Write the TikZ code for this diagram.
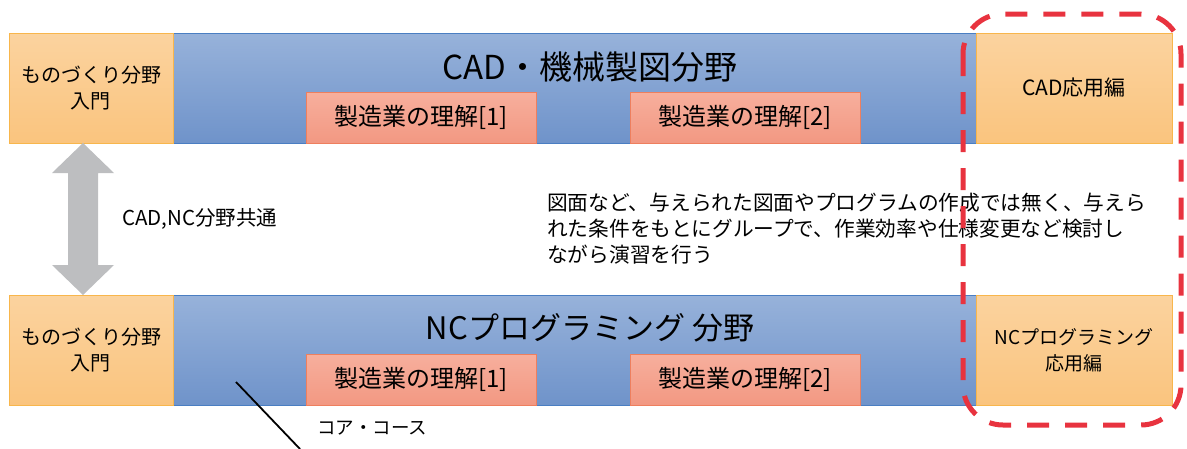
\documentclass[tikz,border=0pt]{standalone}
\usepackage{fontspec}
\setmainfont{Noto Sans CJK JP}
\usetikzlibrary{positioning}
\definecolor{otop}{HTML}{FBD39F}
\definecolor{obot}{HTML}{FAC47E}
\definecolor{oline}{HTML}{F8B64C}
\definecolor{btop}{HTML}{97B2DA}
\definecolor{bbot}{HTML}{6F93CA}
\definecolor{bline}{HTML}{4A7EC2}
\definecolor{ptop}{HTML}{F7AF9D}
\definecolor{pbot}{HTML}{F29882}
\definecolor{pline}{HTML}{EE7F5E}
\definecolor{arrgray}{HTML}{BDBEC0}
\definecolor{redd}{HTML}{E8333F}
\tikzset{
  box/.style={rectangle, inner sep=0pt, line width=0.8pt, align=center, anchor=center},
  obox/.style={box, draw=oline, top color=otop, bottom color=obot},
  bband/.style={box, draw=bline, top color=btop, bottom color=bbot},
  pbox/.style={box, draw=pline, top color=ptop, bottom color=pbot, minimum width=230pt, minimum height=51pt, font=\fontsize{24}{28}\selectfont},
  sidebox/.style={obox, minimum width=164pt, minimum height=110pt, font=\fontsize{20}{26}\selectfont},
  appbox/.style={obox, minimum width=196pt, minimum height=110pt, font=\fontsize{19}{26}\selectfont},
  title/.style={inner sep=0pt},
  plain/.style={inner sep=0pt, align=left},
  reddash/.style={draw=redd, line width=5pt, dash pattern=on 22pt off 16pt, rounded corners=40pt},
}
\begin{document}
\begin{tikzpicture}[x=1pt,y=-1pt]
\useasboundingbox (0,0) rectangle (1187,448);
% top row
\node[bband, minimum width=803pt, minimum height=110pt] (cadband) at (574.5,88) {};
\node[sidebox] (cadintro) at (91,88) {ものづくり分野\\入門};
\node[appbox, font=\fontsize{21}{26}\selectfont] (cadapp) at (1074,88) {CAD応用編};
\node[title, font=\fontsize{33}{38}\selectfont] (cadtitle) at (590,67) {CAD・機械製図分野};
\node[pbox] (cadp1) at (421,117.5) {製造業の理解[1]};
\node[pbox] (cadp2) at (745,117.5) {製造業の理解[2]};
% bottom row
\node[bband, minimum width=803pt, minimum height=110pt] (ncband) at (574.5,350) {};
\node[sidebox] (ncintro) at (91,350) {ものづくり分野\\入門};
\node[appbox] (ncapp) at (1074,350) {NCプログラミング\\応用編};
\node[title, font=\fontsize{31}{36}\selectfont] (nctitle) at (590,328) {NCプログラミング 分野};
\node[pbox] (ncp1) at (421,379.5) {製造業の理解[1]};
\node[pbox] (ncp2) at (745,379.5) {製造業の理解[2]};
% double arrow
\fill[arrgray] (83,143) -- (114,173) -- (98,173) -- (98,265) -- (114,265) -- (83,295)
  -- (52,265) -- (68,265) -- (68,173) -- (52,173) -- cycle;
\node[plain, anchor=west, font=\fontsize{20.5}{24}\selectfont] (common) at (122,219) {CAD,NC分野共通};
% description
\node[plain, anchor=north west, font=\fontsize{20.7}{26}\selectfont] (desc) at (547,193)
  {図面など、与えられた図面やプログラムの作成では無く、与えら\\れた条件をもとにグループで、作業効率や仕様変更など検討し\\ながら演習を行う};
% core course
\coordinate (linestart) at (236,382);
\coordinate (lineend) at (300,449);
\draw[black, line width=1.8pt] (linestart) -- (lineend);
\node[plain, anchor=west, font=\fontsize{18.5}{22}\selectfont] (core) at (317,428) {コア・コース};
% dashed frame
\draw[reddash] (963,14) rectangle (1181,425);
\end{tikzpicture}
\end{document}
